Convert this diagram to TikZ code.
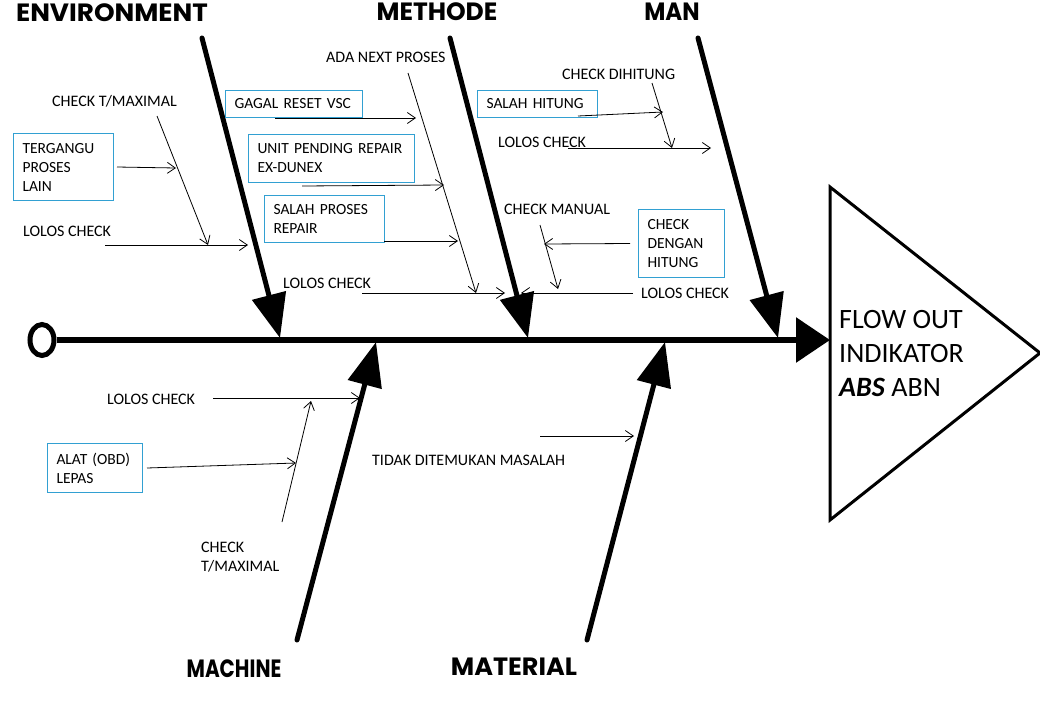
\documentclass[tikz,border=0pt]{standalone}
\usepackage{fontspec}
\setmainfont{Carlito}
\newfontfamily\catfont{Poppins}
\usetikzlibrary{arrows.meta,shapes.geometric}
\definecolor{boxblue}{RGB}{50,160,210}
\begin{document}
\begin{tikzpicture}[x=1pt,y=-1pt,
  bone/.style={line width=5pt,line cap=round,-{Triangle[length=44pt,width=34pt]}},
  thin/.style={line width=0.8pt,-{Straight Barb[length=8pt,width=11pt]}},
  lbl/.style={font=\fontsize{16}{19}\selectfont,anchor=west,inner sep=0pt,align=left},
  cat/.style={font=\catfont\bfseries\fontsize{25}{28}\selectfont,inner sep=0pt},
  cbox/.style={draw=boxblue,line width=1pt,inner xsep=9pt,inner ysep=0pt,align=left,
    anchor=north west,font=\fontsize{15.5}{19}\selectfont}]
\useasboundingbox (0,0) rectangle (1040,720);

% head triangle
\draw[line width=3pt,line join=miter] (830,187) -- (1040,353) -- (830,520) -- cycle;
\node[font=\fontsize{28}{34}\selectfont,anchor=west,inner sep=0pt,align=left] (head) at (839,354)
  {FLOW OUT\\INDIKATOR\\\textbf{\itshape ABS} ABN};

% spine
\node[ellipse,draw,line width=5pt,minimum width=24pt,minimum height=31pt,inner sep=0pt] (tail) at (42,340) {};
\coordinate (spineend) at (830,340);
\draw[line width=6pt,-{Triangle[length=34pt,width=44pt]}] (tail.east) -- (spineend);

% categories
\node[cat] (env) at (112,13) {\scalebox{1.05}[1]{ENVIRONMENT}};
\node[cat] (met) at (437,12) {\scalebox{1.0}[1]{METHODE}};
\node[cat] (man) at (672,12) {\scalebox{0.92}[1]{MAN}};
\node[cat] (mac) at (234,669) {\scalebox{0.8}[1]{MACHINE}};
\node[cat] (mat) at (514,667) {\scalebox{1.02}[1]{MATERIAL}};

% bones
\coordinate (envS) at (202,38);  \coordinate (envT) at (280,338);
\coordinate (metS) at (450,38);  \coordinate (metT) at (528,338);
\coordinate (manS) at (698,38);  \coordinate (manT) at (778,338);
\coordinate (macS) at (297,640); \coordinate (macT) at (376,342);
\coordinate (matS) at (587,640); \coordinate (matT) at (665,342);
\draw[bone] (envS) -- (envT);
\draw[bone] (metS) -- (metT);
\draw[bone] (manS) -- (manT);
\draw[bone] (macS) -- (macT);
\draw[bone] (matS) -- (matT);

% boxes
\node[cbox,text width=82pt,minimum height=67pt] (tg) at (13,133) {\mbox{TERGANGU}\\\mbox{PROSES}\\\mbox{LAIN}};
\node[cbox,text width=119pt,minimum height=27pt] (gr) at (225,90) {\mbox{GAGAL RESET VSC}};
\node[cbox,text width=148pt,minimum height=48pt] (up) at (248,134) {\mbox{UNIT PENDING REPAIR}\\\mbox{EX-DUNEX}};
\node[cbox,text width=102pt,minimum height=47pt] (sp) at (264,195) {\mbox{SALAH PROSES}\\\mbox{REPAIR}};
\node[cbox,text width=102pt,minimum height=27pt] (sh) at (477,90) {\mbox{SALAH HITUNG}};
\node[cbox,text width=68pt,minimum height=68pt] (cd) at (638,209) {\mbox{CHECK}\\\mbox{DENGAN}\\\mbox{HITUNG}};
\node[cbox,text width=77pt,minimum height=49pt] (al) at (47,443) {\mbox{ALAT (OBD)}\\\mbox{LEPAS}};

% labels
\node[lbl] (l1) at (52,101) {CHECK T/MAXIMAL};
\node[lbl] (l2) at (23,231) {LOLOS CHECK};
\node[lbl] (l3) at (326,57) {ADA NEXT PROSES};
\node[lbl] (l4) at (283,283) {LOLOS CHECK};
\node[lbl] (l5) at (562,74) {CHECK DIHITUNG};
\node[lbl] (l6) at (498,142) {LOLOS CHECK};
\node[lbl] (l7) at (504,209) {CHECK MANUAL};
\node[lbl] (l8) at (641,293) {LOLOS CHECK};
\node[lbl] (l9) at (107,399) {LOLOS CHECK};
\node[lbl] (l10) at (201,557) {CHECK\\T/MAXIMAL};
\node[lbl] (l11) at (372,460) {TIDAK DITEMUKAN MASALAH};

% thin arrows
\coordinate (a1e) at (176,168);
\coordinate (a2s) at (157,116); \coordinate (a2e) at (208,245);
\coordinate (a3s) at (105,245); \coordinate (a3e) at (248,245);
\coordinate (a4s) at (275,118); \coordinate (a4e) at (416,118);
\coordinate (a5s) at (302,186); \coordinate (a5e) at (444,185);
\coordinate (a6s) at (384,241); \coordinate (a6e) at (458,241);
\coordinate (a7s) at (408,73);  \coordinate (a7e) at (476,293);
\coordinate (a8s) at (362,293); \coordinate (a8e) at (505,293);
\coordinate (a9s) at (578,116); \coordinate (a9e) at (663,112);
\coordinate (a10s) at (652,83); \coordinate (a10e) at (672,148);
\coordinate (a11s) at (568,148); \coordinate (a11e) at (711,148);
\coordinate (a12s) at (540,225); \coordinate (a12e) at (558,289);
\coordinate (a13e) at (544,244);
\coordinate (a14s) at (633,293); \coordinate (a14e) at (521,293);
\coordinate (a15s) at (213,398); \coordinate (a15e) at (360,398);
\coordinate (a16e) at (296,463);
\coordinate (a17s) at (282,522); \coordinate (a17e) at (311,401);
\coordinate (a18s) at (540,436); \coordinate (a18e) at (634,436);

\draw[thin] ([xshift=3pt]tg.east) -- (a1e);
\draw[thin] (a2s) -- (a2e);
\draw[thin] (a3s) -- (a3e);
\draw[thin] (a4s) -- (a4e);
\draw[thin] (a5s) -- (a5e);
\draw[thin] (a6s) -- (a6e);
\draw[thin] (a7s) -- (a7e);
\draw[thin] (a8s) -- (a8e);
\draw[thin] (a9s) -- (a9e);
\draw[thin] (a10s) -- (a10e);
\draw[thin] (a11s) -- (a11e);
\draw[thin] (a12s) -- (a12e);
\draw[thin] ([xshift=-8pt]cd.west) -- (a13e);
\draw[thin] (a14s) -- (a14e);
\draw[thin] (a15s) -- (a15e);
\draw[thin] ([xshift=4pt]al.east) -- (a16e);
\draw[thin] (a17s) -- (a17e);
\draw[thin] (a18s) -- (a18e);
\end{tikzpicture}
\end{document}
